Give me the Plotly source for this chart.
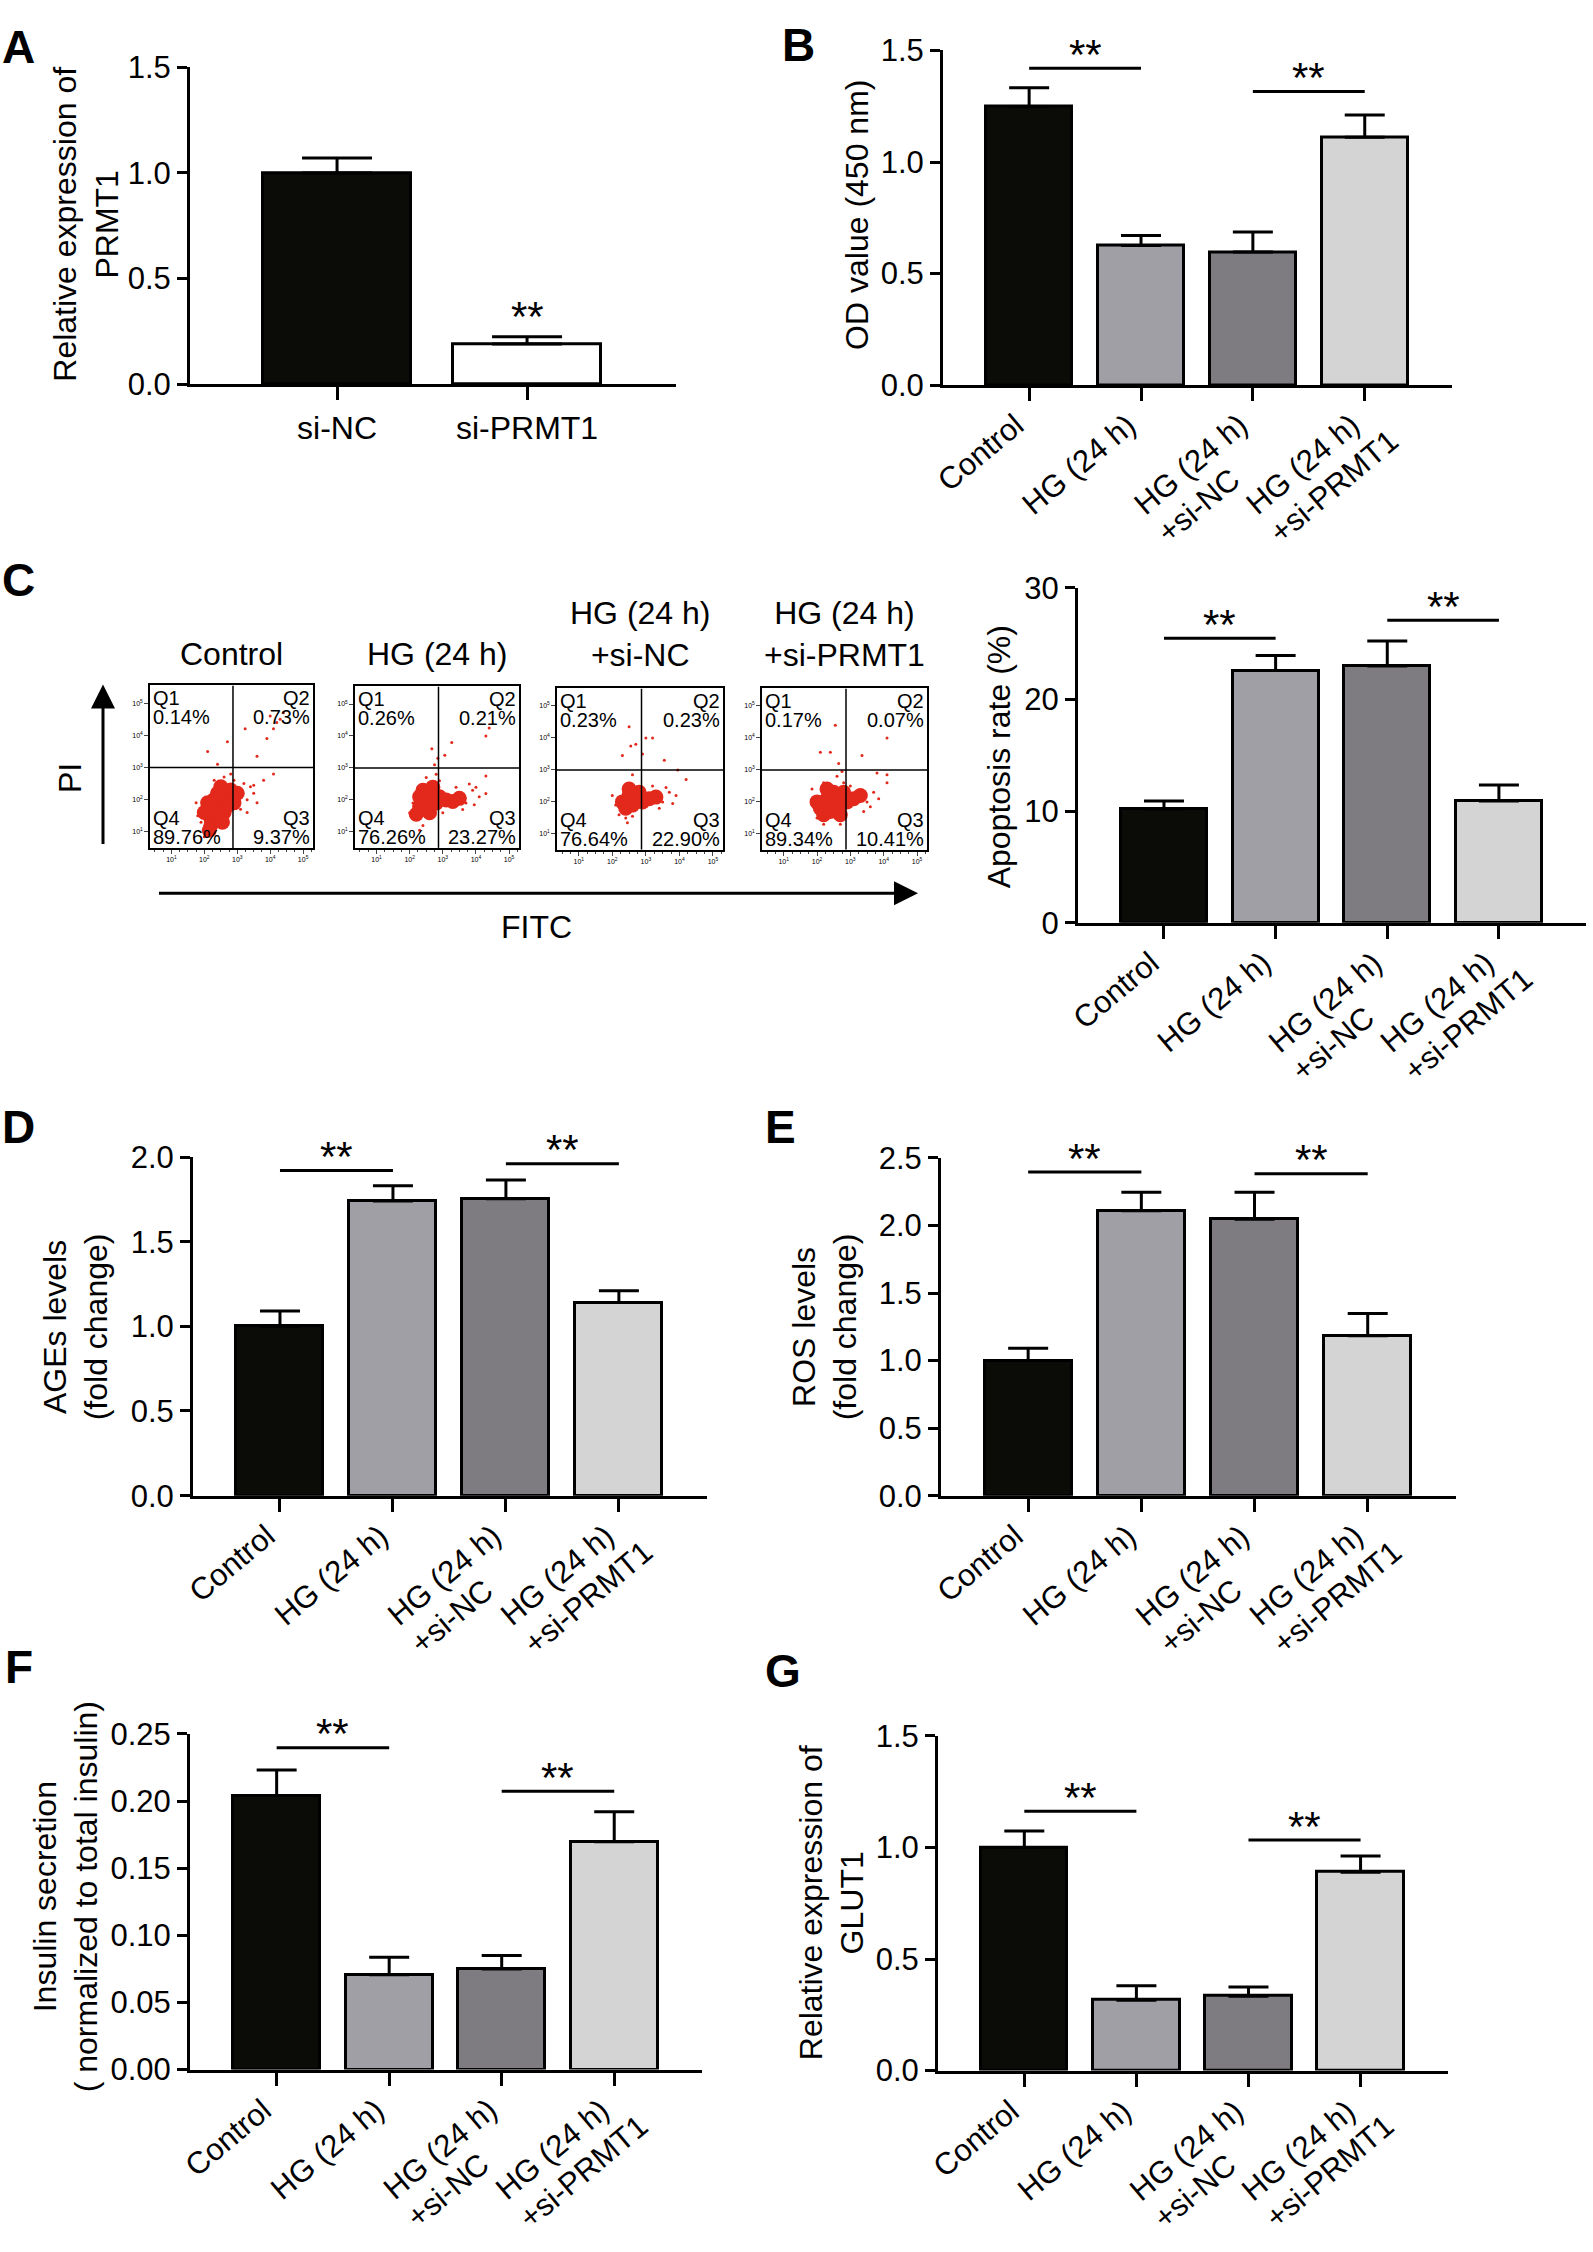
import math
import plotly.graph_objects as go

W, H = 1593, 2252
FONT = "Arial, 'Liberation Sans', Helvetica, sans-serif"

# ---------------- data ----------------
groups = ["Control", "HG (24 h)", "HG (24 h)<br>+si-NC", "HG (24 h)<br>+si-PRMT1"]
group_colors = ["#0b0b08", "#a09fa5", "#7e7c81", "#d4d4d4"]

a_cats = ["si-NC", "si-PRMT1"]
a_colors = ["#0b0b08", "#ffffff"]
a_vals = [1.0, 0.19]
a_err = [0.07, 0.035]

b_vals = [1.248, 0.626, 0.597, 1.111]
b_err = [0.085, 0.045, 0.09, 0.10]
b_sig = [1.42, 1.316]

c_vals = [10.2, 22.6, 23.0, 10.9]
c_err = [0.7, 1.35, 2.25, 1.45]
c_sig = [25.5, 27.1]

d_vals = [1.0, 1.74, 1.754, 1.14]
d_err = [0.09, 0.09, 0.11, 0.07]
d_sig = [1.92, 1.96]

e_vals = [1.0, 2.11, 2.046, 1.183]
e_err = [0.092, 0.137, 0.2, 0.165]
e_sig = [2.396, 2.383]

f_vals = [0.2042, 0.0706, 0.075, 0.1696]
f_err = [0.019, 0.013, 0.010, 0.0224]
f_sig = [0.2397, 0.2072]

g_vals = [1.0, 0.315, 0.333, 0.889]
g_err = [0.074, 0.065, 0.041, 0.073]
g_sig = [1.162, 1.033]

# flow cytometry (log10 units)
flow_titles = ["Control", "HG (24 h)", "HG (24 h)<br>+si-NC", "HG (24 h)<br>+si-PRMT1"]
q1_pct = ["0.14%", "0.26%", "0.23%", "0.17%"]
q2_pct = ["0.73%", "0.21%", "0.23%", "0.07%"]
q3_pct = ["9.37%", "23.27%", "22.90%", "10.41%"]
q4_pct = ["89.76%", "76.26%", "76.64%", "89.34%"]
gate_fitc = 2.87
gate_pi = 3.0
flow_ticks = [1, 2, 3, 4, 5]
flow_ticktext = ["10<sup>1</sup>", "10<sup>2</sup>", "10<sup>3</sup>", "10<sup>4</sup>", "10<sup>5</sup>"]

core1_x = [2.2, 2.3, 2.5, 2.7, 2.8, 2.4, 2.1, 2.6, 2.9, 2.2, 2.4, 2.7, 2.0, 3.0, 2.5, 2.3, 2.15, 2.55]
core1_y = [1.4, 1.7, 1.9, 2.1, 2.3, 2.2, 1.9, 1.6, 1.9, 1.2, 1.5, 1.8, 1.6, 2.2, 2.4, 2.0, 1.05, 1.3]
dots1_x = [3.3, 3.5, 3.6, 3.2, 3.8, 2.0, 1.9, 2.3, 3.1, 2.6, 2.8, 2.3, 4.2, 4.3, 4.1, 4.4, 4.0, 3.24, 2.7, 2.1, 3.6, 4.1, 2.4, 3.9, 3.4, 1.8, 2.9, 1.75, 2.0, 3.3, 3.5]
dots1_y = [2.0, 2.2, 1.9, 2.5, 2.6, 1.1, 1.3, 0.95, 1.7, 2.7, 2.8, 2.6, 4.4, 4.5, 4.2, 4.7, 4.6, 4.2, 3.8, 3.5, 3.35, 2.8, 3.1, 3.9, 2.4, 1.5, 2.6, 1.9, 0.85, 1.6, 2.45]

core2_x = [2.3, 2.5, 2.7, 2.8, 2.4, 2.6, 2.9, 2.5, 2.7, 3.1, 3.3, 2.3, 2.6, 2.2, 3.5]
core2_y = [1.8, 2.0, 2.2, 1.9, 2.3, 1.6, 2.1, 1.8, 2.4, 2.0, 1.95, 2.1, 2.0, 1.55, 2.05]
dots2_x = [3.5, 3.7, 3.9, 4.1, 3.6, 3.8, 4.3, 2.1, 2.2, 2.4, 2.8, 2.67, 2.75, 4.4, 4.3, 3.27, 3.06, 4.3, 2.9, 3.0, 2.5, 2.0, 3.4, 3.95, 4.0, 2.3, 2.85]
dots2_y = [2.2, 1.9, 2.3, 2.1, 1.7, 2.5, 2.2, 1.9, 1.4, 1.2, 2.8, 3.6, 3.1, 4.25, 4.0, 3.8, 3.4, 2.75, 2.6, 1.6, 2.7, 1.6, 2.4, 1.85, 2.4, 1.05, 3.3]

core3_x = [2.3, 2.5, 2.7, 2.4, 2.6, 2.8, 2.5, 2.9, 3.1, 3.3]
core3_y = [2.0, 2.2, 2.1, 1.8, 1.9, 2.3, 2.4, 2.0, 2.1, 2.15]
dots3_x = [3.3, 3.5, 3.7, 3.9, 3.4, 2.1, 2.2, 2.4, 2.6, 2.5, 2.55, 2.7, 3.0, 3.2, 2.3, 2.9, 3.55, 3.95, 4.2, 2.6, 3.2, 2.0, 3.6, 3.8, 2.45]
dots3_y = [2.2, 2.0, 2.3, 2.2, 1.8, 1.9, 1.6, 1.5, 1.55, 4.35, 3.75, 3.8, 4.0, 4.0, 3.45, 3.5, 3.3, 3.0, 2.7, 2.85, 2.5, 2.2, 2.45, 1.95, 1.35]

core4_x = [2.1, 2.3, 2.5, 2.7, 2.9, 2.2, 2.4, 2.6, 2.8, 2.3, 2.5, 2.7, 3.1, 2.0, 3.3]
core4_y = [1.8, 2.1, 2.0, 2.2, 2.0, 1.6, 1.7, 1.8, 2.3, 2.4, 2.3, 1.6, 2.1, 2.0, 2.2]
dots4_x = [3.3, 3.5, 3.7, 3.85, 3.4, 1.9, 2.0, 2.2, 2.6, 2.75, 2.8, 2.55, 2.1, 2.4, 3.35, 4.1, 3.8, 4.1, 4.1, 2.7, 3.0, 2.2, 3.6, 2.65, 1.85]
dots4_y = [2.2, 2.0, 2.3, 2.1, 1.7, 1.9, 1.5, 1.3, 2.8, 2.95, 2.6, 4.4, 3.55, 3.55, 3.45, 4.0, 2.9, 2.6, 2.85, 1.3, 2.5, 2.6, 1.85, 3.2, 2.4]

flow_core = [(core1_x, core1_y), (core2_x, core2_y), (core3_x, core3_y), (core4_x, core4_y)]
flow_dots = [(dots1_x, dots1_y), (dots2_x, dots2_y), (dots3_x, dots3_y), (dots4_x, dots4_y)]

# ---------------- layout helpers ----------------
def dxp(a, b):
    return [a / W, b / W]

def dyp(top, bottom):
    return [1 - bottom / H, 1 - top / H]

def px(x):
    return x / W

def py(y):
    return 1 - y / H

# Arial advance widths (per 1000 em) used to lay out the slanted category labels
ARIAL_W = {"C": 722, "o": 556, "n": 556, "t": 278, "r": 333, "l": 222, "H": 722, "G": 778,
           " ": 278, "(": 333, ")": 333, "2": 556, "4": 556, "h": 556, "+": 584, "s": 500,
           "i": 222, "-": 333, "N": 722, "P": 667, "R": 722, "M": 833, "T": 611, "1": 556}

def textw(s, f):
    return sum(ARIAL_W.get(ch, 556) for ch in s) * f / 1000.0

fig = go.Figure()
layout = dict(width=W, height=H, margin=dict(l=0, r=0, t=0, b=0),
              paper_bgcolor="white", plot_bgcolor="rgba(0,0,0,0)",
              showlegend=False, font=dict(family=FONT, color="black"))
annotations = []
ANG = 40.0        # label slant (degrees)
LBL_F = 31        # category label font size
LBL_L = 37        # line spacing of two-line labels

def bar_axes(n, xdom, ydom, xrange, yrange, dtick, fmt, show_xlabels=False, xfont=30):
    key = "" if n == 1 else str(n)
    layout["xaxis" + key] = dict(
        domain=dxp(*xdom), range=xrange, anchor="y" + key,
        showline=True, linewidth=3, linecolor="black", ticks="outside", ticklen=13,
        tickwidth=3, tickcolor="black", showticklabels=show_xlabels, tickangle=0,
        tickfont=dict(size=xfont, family=FONT, color="black"),
        showgrid=False, zeroline=False, type="category")
    layout["yaxis" + key] = dict(
        domain=dyp(*ydom), range=yrange, anchor="x" + key,
        showline=True, linewidth=3, linecolor="black", ticks="outside", ticklen=10,
        tickwidth=3, tickcolor="black", dtick=dtick, tick0=0, tickformat=fmt,
        tickfont=dict(size=31, family=FONT, color="black"),
        showgrid=False, zeroline=False)

def cat_labels(n, cats):
    key = "" if n == 1 else str(n)
    t = math.radians(ANG)
    c, s = math.cos(t), math.sin(t)
    for i, cat in enumerate(cats):
        lines = cat.split("<br>")
        w1 = textw(lines[0], LBL_F)
        ex, ey = -3.0, 44.0                 # baseline end of first line (px, y down)
        sx0, sy0 = ex - w1 * c, ey + w1 * s  # baseline start of first line
        for j, line in enumerate(lines):
            wj = textw(line, LBL_F)
            sx = sx0 + j * LBL_L * s
            sy = sy0 + j * LBL_L * c
            cx = sx + wj / 2 * c - 0.35 * LBL_F * s
            cy = sy - wj / 2 * s - 0.35 * LBL_F * c
            annotations.append(dict(x=i, y=0, xref="x" + key, yref="y" + key, text=line,
                                    showarrow=False, textangle=-ANG, xanchor="center",
                                    yanchor="middle", xshift=cx, yshift=-cy,
                                    font=dict(size=LBL_F, family=FONT, color="black")))

def add_bars(n, cats, vals, errs, colors, width, capw=20):
    key = "" if n == 1 else str(n)
    fig.add_trace(go.Bar(
        x=cats, y=vals, width=width, xaxis="x" + key, yaxis="y" + key,
        marker=dict(color=colors, line=dict(color="black", width=3)),
        error_y=dict(type="data", array=errs, arrayminus=[0] * len(errs), symmetric=False,
                     color="black", thickness=3, width=capw),
    ))

def add_sig(n, cats, sig):
    key = "" if n == 1 else str(n)
    pairs = [(0, 1), (2, 3)]
    for (i, j), h in zip(pairs, sig):
        fig.add_trace(go.Scatter(x=[cats[i], cats[j]], y=[h, h], mode="lines",
                                 line=dict(color="black", width=3),
                                 xaxis="x" + key, yaxis="y" + key, hoverinfo="skip"))
        annotations.append(dict(x=(i + j) / 2, y=h, xref="x" + key, yref="y" + key,
                                text="**", showarrow=False, yanchor="middle", yshift=14,
                                font=dict(size=42, family=FONT, color="black")))

def ytitle(text, xc, yc):
    annotations.append(dict(x=px(xc), y=py(yc), xref="paper", yref="paper", text=text,
                            textangle=-90, showarrow=False, xanchor="center", yanchor="middle",
                            font=dict(size=32, family=FONT, color="black")))

def letter(text, xl, yc):
    annotations.append(dict(x=px(xl), y=py(yc), xref="paper", yref="paper",
                            text="<b>%s</b>" % text, showarrow=False, xanchor="left",
                            yanchor="middle", font=dict(size=46, family=FONT, color="black")))

XR4 = [-0.77, 3.78]

# ---------------- Panel A ----------------
bar_axes(1, (190, 676), (51, 373), [-0.774, 1.784], [0, 1.5], 0.5, ".1f",
         show_xlabels=True, xfont=32)
add_bars(1, a_cats, a_vals, a_err, a_colors, 0.78, capw=35)
annotations.append(dict(x=a_cats[1], y=a_vals[1] + a_err[1], xref="x", yref="y", text="**",
                        showarrow=False, yanchor="middle", yshift=20,
                        font=dict(size=42, family=FONT, color="black")))
ytitle("Relative expression of<br>PRMT1", 86, 211)
letter("A", 0, 30)

# ---------------- Panel B ----------------
bar_axes(2, (943, 1452), (34, 374), XR4, [0, 1.5], 0.5, ".1f")
add_bars(2, groups, b_vals, b_err, group_colors, 0.77)
add_sig(2, groups, b_sig)
cat_labels(2, groups)
ytitle("OD value (450 nm)", 857, 201)
letter("B", 780, 28)

# ---------------- Panel C flow plots ----------------
boxes = [(150, 313, 679, 844), (355, 519, 680, 844), (557, 723, 682, 846), (762, 927, 682, 846)]
title_y = [647, 647, 627, 627]
for k in range(4):
    n = 3 + k
    xl, xr, yt, yb = boxes[k]
    layout["xaxis%d" % n] = dict(domain=dxp(xl, xr), range=[0.35, 5.3], anchor="y%d" % n,
                                  showline=True, mirror=True, linewidth=1.5, linecolor="black",
                                  ticks="outside", ticklen=4, tickwidth=1, tickvals=flow_ticks,
                                  ticktext=flow_ticktext, tickfont=dict(size=7, color="black"),
                                  minor=dict(ticks="outside", ticklen=2, dtick=0.25, tickwidth=1),
                                  showgrid=False, zeroline=False)
    layout["yaxis%d" % n] = dict(domain=dyp(yt, yb), range=[0.5, 5.55], anchor="x%d" % n,
                                  showline=True, mirror=True, linewidth=1.5, linecolor="black",
                                  ticks="outside", ticklen=4, tickwidth=1, tickvals=flow_ticks,
                                  ticktext=flow_ticktext, tickfont=dict(size=7, color="black"),
                                  showgrid=False, zeroline=False)
    cx, cy = flow_core[k]
    sx, sy = flow_dots[k]
    fig.add_trace(go.Scatter(x=cx, y=cy, mode="markers", xaxis="x%d" % n, yaxis="y%d" % n,
                             marker=dict(color="#e2291c", size=15, line=dict(width=0)),
                             hoverinfo="skip"))
    fig.add_trace(go.Scatter(x=sx, y=sy, mode="markers", xaxis="x%d" % n, yaxis="y%d" % n,
                             marker=dict(color="#e2291c", size=3, line=dict(width=0)),
                             hoverinfo="skip"))
    fig.add_trace(go.Scatter(x=[gate_fitc, gate_fitc], y=[0.5, 5.55], mode="lines",
                             xaxis="x%d" % n, yaxis="y%d" % n,
                             line=dict(color="black", width=1.5), hoverinfo="skip"))
    fig.add_trace(go.Scatter(x=[0.35, 5.3], y=[gate_pi, gate_pi], mode="lines",
                             xaxis="x%d" % n, yaxis="y%d" % n,
                             line=dict(color="black", width=1.5), hoverinfo="skip"))
    qf = dict(size=20, family=FONT, color="black")
    annotations += [
        dict(x=px(xl + 1), y=py(yt + 13), xref="paper", yref="paper", text="Q1",
             showarrow=False, xanchor="left", yanchor="middle", font=qf),
        dict(x=px(xl + 1), y=py(yt + 32), xref="paper", yref="paper", text=q1_pct[k],
             showarrow=False, xanchor="left", yanchor="middle", font=qf),
        dict(x=px(xr - 1), y=py(yt + 13), xref="paper", yref="paper", text="Q2",
             showarrow=False, xanchor="right", yanchor="middle", font=qf),
        dict(x=px(xr - 1), y=py(yt + 32), xref="paper", yref="paper", text=q2_pct[k],
             showarrow=False, xanchor="right", yanchor="middle", font=qf),
        dict(x=px(xl + 1), y=py(yb - 30), xref="paper", yref="paper", text="Q4",
             showarrow=False, xanchor="left", yanchor="middle", font=qf),
        dict(x=px(xl + 1), y=py(yb - 11), xref="paper", yref="paper", text=q4_pct[k],
             showarrow=False, xanchor="left", yanchor="middle", font=qf),
        dict(x=px(xr - 1), y=py(yb - 30), xref="paper", yref="paper", text="Q3",
             showarrow=False, xanchor="right", yanchor="middle", font=qf),
        dict(x=px(xr - 1), y=py(yb - 11), xref="paper", yref="paper", text=q3_pct[k],
             showarrow=False, xanchor="right", yanchor="middle", font=qf),
        dict(x=px((xl + xr) / 2), y=py(title_y[k]), xref="paper", yref="paper",
             text=flow_titles[k], showarrow=False, xanchor="center", yanchor="middle",
             font=dict(size=32, family=FONT, color="black")),
    ]

# PI and FITC arrows
annotations.append(dict(x=px(103), y=py(678), xref="paper", yref="paper", ax=0, ay=168,
                        axref="pixel", ayref="pixel", showarrow=True, arrowhead=2,
                        arrowsize=1.6, arrowwidth=3, arrowcolor="black", text=" "))
annotations.append(dict(x=px(918), y=py(890), xref="paper", yref="paper", ax=-762, ay=0,
                        axref="pixel", ayref="pixel", showarrow=True, arrowhead=2,
                        arrowsize=1.6, arrowwidth=3, arrowcolor="black", text=" "))
annotations.append(dict(x=px(70), y=py(773), xref="paper", yref="paper", text="PI",
                        textangle=-90, showarrow=False, xanchor="center", yanchor="middle",
                        font=dict(size=32, family=FONT, color="black")))
annotations.append(dict(x=px(536), y=py(924), xref="paper", yref="paper", text="FITC",
                        showarrow=False, xanchor="center", yanchor="middle",
                        font=dict(size=32, family=FONT, color="black")))
letter("C", 0, 572)

# ---------------- Panel C bar ----------------
bar_axes(7, (1078, 1586), (580, 920), XR4, [0, 30], 10, "d")
add_bars(7, groups, c_vals, c_err, group_colors, 0.77)
add_sig(7, groups, c_sig)
cat_labels(7, groups)
ytitle("Apoptosis rate (%)", 999, 752)

# ---------------- Panel D ----------------
bar_axes(8, (193, 707), (1158, 1502), XR4, [0, 2.0], 0.5, ".1f")
add_bars(8, groups, d_vals, d_err, group_colors, 0.77)
add_sig(8, groups, d_sig)
cat_labels(8, groups)
ytitle("AGEs levels<br>(fold change)", 76, 1331)
letter("D", 0, 1128)

# ---------------- Panel E ----------------
bar_axes(9, (941, 1456), (1159, 1502), XR4, [0, 2.5], 0.5, ".1f")
add_bars(9, groups, e_vals, e_err, group_colors, 0.77)
add_sig(9, groups, e_sig)
cat_labels(9, groups)
ytitle("ROS levels<br>(fold change)", 825, 1331)
letter("E", 763, 1128)

# ---------------- Panel F ----------------
bar_axes(10, (190, 702), (1744, 2085), XR4, [0, 0.25], 0.05, ".2f")
add_bars(10, groups, f_vals, f_err, group_colors, 0.77)
add_sig(10, groups, f_sig)
cat_labels(10, groups)
ytitle("Insulin secretion<br>( normalized to total insulin)", 66, 1910)
letter("F", 3, 1676)

# ---------------- Panel G ----------------
bar_axes(11, (938, 1448), (1746, 2086), XR4, [0, 1.5], 0.5, ".1f")
add_bars(11, groups, g_vals, g_err, group_colors, 0.77)
add_sig(11, groups, g_sig)
cat_labels(11, groups)
ytitle("Relative expression of<br>GLUT1", 832, 1916)
letter("G", 763, 1680)

layout["annotations"] = annotations
layout["bargap"] = 0
fig.update_layout(**layout)
fig.write_html("out.html", config={"displayModeBar": False},
               post_script="document.body.style.margin='0px';document.body.style.padding='0px';")
